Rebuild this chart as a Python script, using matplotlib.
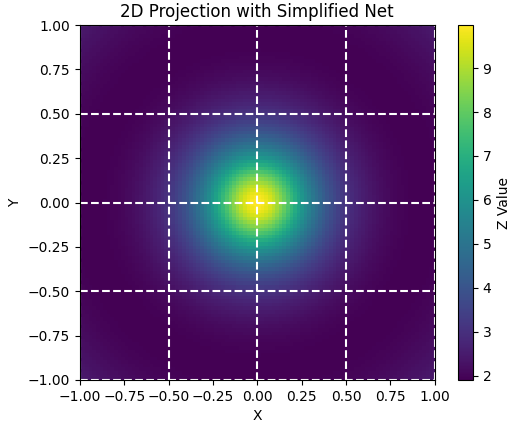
import numpy as np
import matplotlib
matplotlib.use("Agg")
import matplotlib.pyplot as plt

# surface sampled on a square grid
n_points = 100
x_range = (-1.0, 1.0)
eps = 0.1                                # keeps the centre peak finite
net_lines = [-1.0, -0.5, 0.0, 0.5, 1.0]  # positions of the simplified net
ticks = [-1.0, -0.75, -0.5, -0.25, 0.0, 0.25, 0.5, 0.75, 1.0]

x = np.linspace(x_range[0], x_range[1], n_points)
y = np.linspace(x_range[0], x_range[1], n_points)
X, Y = np.meshgrid(x, y)
R2 = X**2 + Y**2
Z = 1.0 / (R2 + eps) + R2

fig = plt.figure(figsize=(5.12, 4.23), dpi=100)
ax = fig.add_axes([0.156, 0.1017, 0.693, 0.839])
cax = fig.add_axes([0.8945, 0.1017, 0.029, 0.839])

mesh = ax.pcolormesh(X, Y, Z, cmap="viridis", shading="auto")

for v in net_lines:      # white dashed net over the projection
    ax.axvline(v, color="white", linestyle="--", linewidth=1.5)
    ax.axhline(v, color="white", linestyle="--", linewidth=1.5)

ax.set_xlim(-1, 1)
ax.set_ylim(-1, 1)
ax.set_xticks(ticks)
ax.set_yticks(ticks)
ax.set_title("2D Projection with Simplified Net")
ax.set_xlabel("X")
ax.set_ylabel("Y")

cb = fig.colorbar(mesh, cax=cax)
cb.set_label("Z Value")

fig.savefig("out.png", dpi=100)
